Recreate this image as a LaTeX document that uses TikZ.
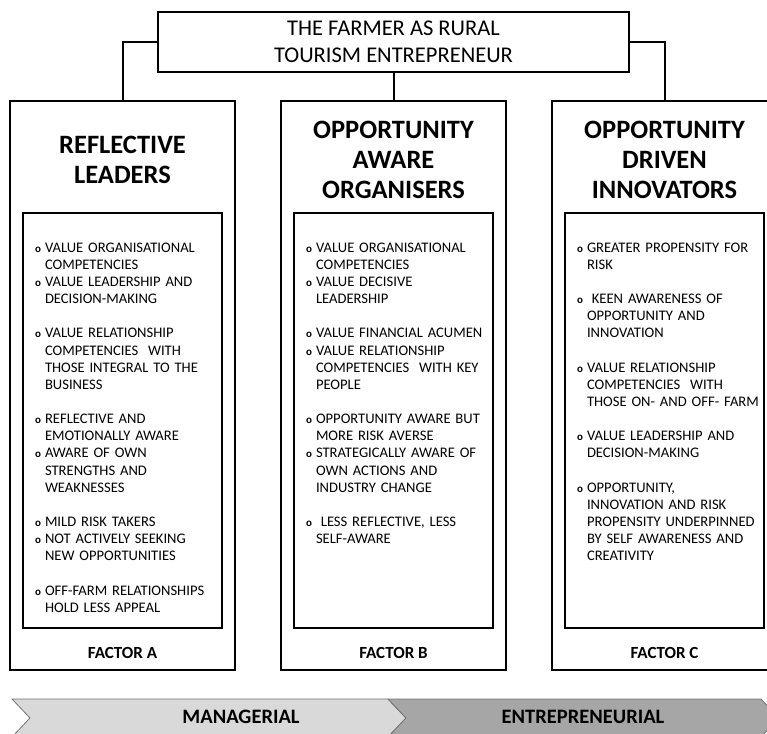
\documentclass[tikz,border=0pt]{standalone}
\usepackage{fontspec}
\setmainfont{Carlito}
\usetikzlibrary{positioning}

% list helpers: one bullet with a hanging second line, and an empty line
\newcommand{\pt}{\par\hangindent=10pt\hangafter=1\noindent\makebox[10pt][l]{\fontsize{11}{17}\selectfont\bfseries o}}
\newcommand{\gap}{\par\vspace{17.15pt}}

\begin{document}
\begin{tikzpicture}[
  x=1pt, y=-1pt,
  line width=2pt,
  every node/.style={outer sep=0pt},
  head/.style={
    draw, minimum width=471pt, minimum height=60pt,
    align=center, inner sep=0pt,
    font=\fontsize{22.5}{27}\selectfont,
  },
  frame/.style={draw, minimum width=225pt, minimum height=569pt, inner sep=0pt},
  inner/.style={draw, minimum width=199pt, minimum height=415pt, inner sep=0pt},
  title/.style={align=center, font=\fontsize{26.5}{30}\selectfont\bfseries},
  factor/.style={font=\fontsize{17}{20}\selectfont\bfseries},
  items/.style={
    anchor=north west, inner sep=0pt, text width=200pt, align=left,
    font=\fontsize{14.6}{17.15}\selectfont\hyphenpenalty 10000\relax,
  },
  link/.style={draw},
  band/.style={draw=black!55, line width=0.8pt, line join=round},
  phase/.style={font=\fontsize{20.5}{24}\selectfont\bfseries},
]
\useasboundingbox (0,0) rectangle (767,733);
\clip (0,0) rectangle (767,733);

% ---- root ------------------------------------------------------------------
\node[head] (root) at (393.5,42) {THE FARMER AS RURAL\\TOURISM ENTREPRENEUR};

% ---- the three factors -----------------------------------------------------
\node[frame] (frameA) at (122.5,385.5) {};
\node[frame] (frameB) at (393.5,385.5) {};
\node[frame] (frameC) at (664.5,385.5) {};

\draw[link] (root.west) -| (frameA.north);
\draw[link] (root.south) -- (frameB.north);
\draw[link] (root.east) -| (frameC.north);

\node[title] (titleA) at (122.5,160) {REFLECTIVE\\LEADERS};
\node[title] (titleB) at (393.5,160) {OPPORTUNITY\\AWARE\\ORGANISERS};
\node[title] (titleC) at (664.5,160) {OPPORTUNITY\\DRIVEN\\INNOVATORS};

\node[inner] (innerA) at (122.5,420.5) {};
\node[inner] (innerB) at (393.5,420.5) {};
\node[inner] (innerC) at (664.5,420.5) {};

\node[factor] (factorA) at (122.5,653) {FACTOR A};
\node[factor] (factorB) at (393.5,653) {FACTOR B};
\node[factor] (factorC) at (664.5,653) {FACTOR C};

% ---- what each factor values -----------------------------------------------
\node[items] (itemsA) at ([shift={(12,22)}]innerA.north west) {%
  \pt VALUE ORGANISATIONAL\newline COMPETENCIES
  \pt VALUE LEADERSHIP AND\newline DECISION-MAKING
  \gap
  \pt VALUE RELATIONSHIP\newline COMPETENCIES\ \ WITH\newline THOSE INTEGRAL TO THE\newline BUSINESS
  \gap
  \pt REFLECTIVE AND\newline EMOTIONALLY AWARE
  \pt AWARE OF OWN\newline STRENGTHS AND\newline WEAKNESSES
  \gap
  \pt MILD RISK TAKERS
  \pt NOT ACTIVELY SEEKING\newline NEW OPPORTUNITIES
  \gap
  \pt OFF-FARM RELATIONSHIPS\newline HOLD LESS APPEAL\par};

\node[items] (itemsB) at ([shift={(12,22)}]innerB.north west) {%
  \pt VALUE ORGANISATIONAL\newline COMPETENCIES
  \pt VALUE DECISIVE\newline LEADERSHIP
  \gap
  \pt VALUE FINANCIAL ACUMEN
  \pt VALUE RELATIONSHIP\newline COMPETENCIES\ \ WITH KEY\newline PEOPLE
  \gap
  \pt OPPORTUNITY AWARE BUT\newline MORE RISK AVERSE
  \pt STRATEGICALLY AWARE OF\newline OWN ACTIONS AND\newline INDUSTRY CHANGE
  \gap
  \pt\ LESS REFLECTIVE, LESS\newline SELF-AWARE\par};

\node[items] (itemsC) at ([shift={(12,22)}]innerC.north west) {%
  \pt GREATER PROPENSITY FOR\newline RISK
  \gap
  \pt\ KEEN AWARENESS OF\newline OPPORTUNITY AND\newline INNOVATION
  \gap
  \pt VALUE RELATIONSHIP\newline COMPETENCIES\ \ WITH\newline THOSE ON- AND OFF- FARM
  \gap
  \pt VALUE LEADERSHIP AND\newline DECISION-MAKING
  \gap
  \pt OPPORTUNITY,\newline INNOVATION AND RISK\newline PROPENSITY UNDERPINNED\newline BY SELF AWARENESS AND\newline CREATIVITY\par};

% ---- managerial to entrepreneurial band ------------------------------------
\filldraw[band, fill=black!15] (12,699) -- (388,699) -- (406,718) -- (388,737)
  -- (12,737) -- (30,718) -- cycle;
\filldraw[band, fill=black!35] (388,699) -- (761,699) -- (779,718) -- (761,737)
  -- (388,737) -- (406,718) -- cycle;
\node[phase] (managerial) at (241,717) {MANAGERIAL};
\node[phase] (entrepreneurial) at (583,717) {ENTREPRENEURIAL};

\end{tikzpicture}
\end{document}
